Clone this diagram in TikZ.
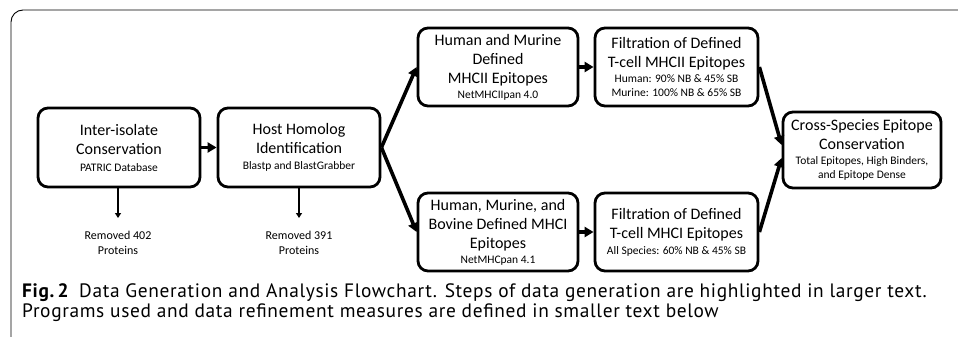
\documentclass[tikz,border=0pt]{standalone}
\usepackage{fontspec}
\setmainfont{Carlito}
\newfontfamily\capfont[LetterSpace=3.3]{PT Sans}
\usetikzlibrary{arrows.meta}
\newcommand\bigt{\fontsize{16}{19}\selectfont}
\newcommand\smallt{\fontsize{11.5}{13.5}\selectfont}
\begin{document}
\begin{tikzpicture}[x=1pt,y=-1pt,
  stepbox/.style={draw, line width=2.8pt, rounded corners=10pt, inner sep=0pt, align=center, font=\bigt},
  thickarrow/.style={line width=3.6pt, -{Triangle[length=9pt,width=10pt]}},
  thinarrow/.style={line width=1.4pt, -{Triangle[length=5pt,width=6pt]}},
  note/.style={align=center, font=\fontsize{12}{15}\selectfont}
]
\useasboundingbox (0,0) rectangle (958,337);
\draw[line width=0.9pt, rounded corners=12pt] (11,337) -- (11,10) -- (958,10);

\node[stepbox, minimum width=162pt, minimum height=79pt] (b1) at (119,147.5)
  {Inter-isolate\\Conservation\\[-2pt]{\smallt PATRIC Database}};
\node[stepbox, minimum width=162pt, minimum height=79pt] (b2) at (299,147.5)
  {Host Homolog\\Identification\\[-3pt]{\smallt Blastp and BlastGrabber}};
\node[stepbox, minimum width=160pt, minimum height=78pt] (b3) at (498,67)
  {Human and Murine\\Defined\\MHCII Epitopes\\[-4pt]{\smallt NetMHCIIpan 4.0}};
\node[stepbox, minimum width=163pt, minimum height=78pt] (b4) at (676.5,67)
  {Filtration of Defined\\T-cell MHCII Epitopes\\[-4pt]{\smallt Human: 90\% NB \& 45\% SB}\\[-5pt]{\smallt Murine: 100\% NB \& 65\% SB}};
\node[stepbox, minimum width=158pt, minimum height=76pt] (b5) at (862,150)
  {Cross-Species Epitope\\Conservation\\[-4pt]{\smallt Total Epitopes, High Binders,}\\[-5pt]{\smallt and Epitope Dense}};
\node[stepbox, minimum width=160pt, minimum height=78pt] (b6) at (498,232)
  {Human, Murine, and\\Bovine Defined MHCI\\Epitopes\\[-4pt]{\smallt NetMHCpan 4.1}};
\node[stepbox, minimum width=163pt, minimum height=78pt] (b7) at (676.5,232)
  {Filtration of Defined\\T-cell MHCI Epitopes\\[-3pt]{\smallt All Species: 60\% NB \& 45\% SB}};

\coordinate (d1) at (118,218);
\coordinate (d2) at (299,218);
\node[note] (r1) at (118,243) {Removed 402\\Proteins};
\node[note] (r2) at (299,243) {Removed 391\\Proteins};

\draw[thickarrow] (b1.east) -- (b2.west);
\draw[thickarrow] (b2.east) -- (b3.west);
\draw[thickarrow] (b2.east) -- (b6.west);
\draw[thickarrow] (b3.east) -- (b4.west);
\draw[thickarrow] (b6.east) -- (b7.west);
\draw[thickarrow] (b4.east) -- ([yshift=5pt]b5.west);
\draw[thickarrow] (b7.east) -- ([yshift=-8pt]b5.west);
\draw[thinarrow] (b1.south -| d1) -- (d1);
\draw[thinarrow] (b2.south) -- (d2);

\node[anchor=north west, align=left, inner sep=0pt, font=\capfont\fontsize{19.4}{20}\selectfont] (cap) at (22,283)
  {\textbf{Fig.\,2}\hspace{10pt}Data Generation and Analysis Flowchart. Steps of data generation are highlighted in larger text.\\
   Programs used and data refinement measures are defined in smaller text below};
\end{tikzpicture}
\end{document}
